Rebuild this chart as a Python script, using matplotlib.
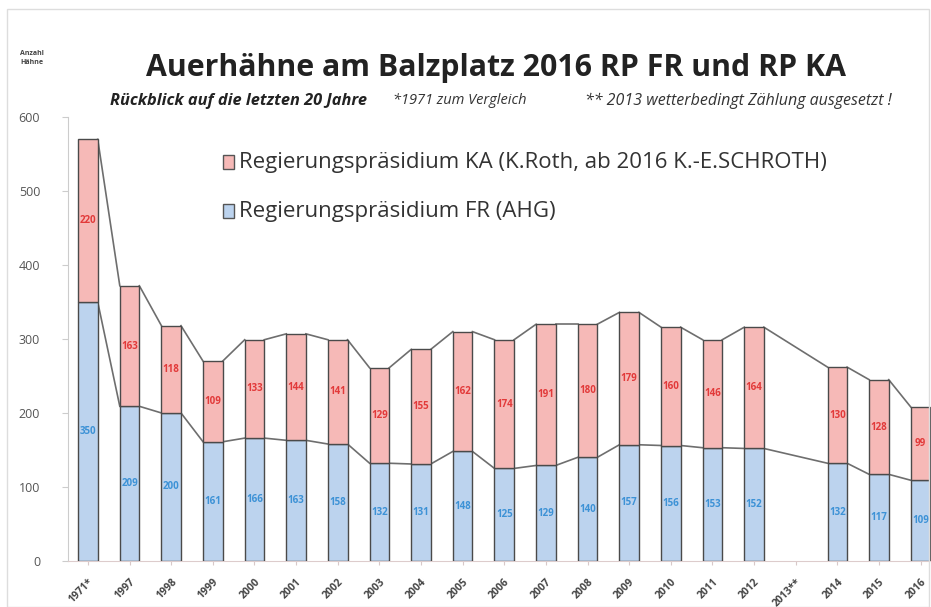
import numpy as np
import matplotlib
matplotlib.use("Agg")
import matplotlib.pyplot as plt
from matplotlib.patches import Rectangle

plt.rcParams['font.family'] = ['Open Sans', 'DejaVu Sans']

years = ["1971*", "1997", "1998", "1999", "2000", "2001", "2002", "2003", "2004",
         "2005", "2006", "2007", "2008", "2009", "2010", "2011", "2012", "2013**",
         "2014", "2015", "2016"]
fr = [350, 209, 200, 161, 166, 163, 158, 132, 131, 148, 125, 129, 140, 157, 156,
      153, 152, np.nan, 132, 117, 109]
ka = [220, 163, 118, 109, 133, 144, 141, 129, 155, 162, 174, 191, 180, 179, 160,
      146, 164, np.nan, 130, 128, 99]
yticks = [0, 100, 200, 300, 400, 500, 600]

title = "Auerhähne am Balzplatz 2016 RP FR und RP KA"
subtitle = "Rückblick auf die letzten 20 Jahre"
note1 = "*1971 zum Vergleich"
note2 = "** 2013 wetterbedingt Zählung ausgesetzt !"
leg_ka = "Regierungspräsidium KA (K.Roth, ab 2016 K.-E.SCHROTH)"
leg_fr = "Regierungspräsidium FR (AHG)"

fr = np.array(fr, dtype=float)
ka = np.array(ka, dtype=float)
x = np.arange(len(years))
w = 0.47

c_fr = "#bcd3ee"
c_ka = "#f6b9b7"
edge = "#4a4a4a"

fig = plt.figure(figsize=(9.31, 6.07), dpi=100)
ax = fig.add_axes([0.073, 0.076, 0.927, 0.731])

ax.bar(x, fr, width=w, color=c_fr, edgecolor=edge, linewidth=1.0, zorder=3)
ax.bar(x, ka, width=w, bottom=fr, color=c_ka, edgecolor=edge, linewidth=1.0, zorder=3)

# series lines connecting stack tops
valid = [i for i in range(len(x)) if not np.isnan(fr[i])]
tot = fr + ka
for a, b in zip(valid[:-1], valid[1:]):
    ax.plot([x[a] + w / 2, x[b] - w / 2], [fr[a], fr[b]], color="#6e6e6e", lw=1.2, zorder=2)
    ax.plot([x[a] + w / 2, x[b] - w / 2], [tot[a], tot[b]], color="#6e6e6e", lw=1.2, zorder=2)

for i in valid:
    ax.text(x[i], fr[i] / 2, f"{int(fr[i])}", ha="center", va="center",
            fontsize=7, color="#3d92d6", fontweight="bold", zorder=4)
    ax.text(x[i], fr[i] + ka[i] / 2, f"{int(ka[i])}", ha="center", va="center",
            fontsize=7, color="#e23a3a", fontweight="bold", zorder=4)

ax.set_xlim(-0.48, len(x) - 1 + 0.25)
ax.set_ylim(0, 600)
ax.set_yticks(yticks)
ax.set_yticklabels([str(v) for v in yticks], fontsize=9, color="#555555")
ax.set_xticks(x)
ax.set_xticklabels(years, rotation=45, ha="right", rotation_mode="anchor",
                   fontsize=7.5, color="#444444", fontweight="bold")
ax.tick_params(axis="y", length=4, color="#cccccc", pad=16)
ax.tick_params(axis="x", length=3, color="#d8c8c8", pad=8)
for s in ["top", "right"]:
    ax.spines[s].set_visible(False)
ax.spines["left"].set_color("#cccccc")
ax.spines["bottom"].set_color("#ddcccc")

fig.text(0.533, 0.888, title, ha="center", va="center", fontsize=21.8,
         fontweight="bold", color="#222222")
fig.text(0.118, 0.834, subtitle, ha="left", va="center", fontsize=11.8,
         fontweight="bold", fontstyle="italic", color="#222222")
fig.text(0.422, 0.834, note1, ha="left", va="center", fontsize=10.5,
         fontstyle="italic", color="#333333")
fig.text(0.628, 0.834, note2, ha="left", va="center", fontsize=11.5,
         fontstyle="italic", color="#333333")
fig.text(0.022, 0.905, "Anzahl\nHähne", ha="left", va="center", fontsize=5,
         fontweight="bold", color="#444444", linespacing=1.4)

# legend
for yy, col, txt in [(0.733, c_ka, leg_ka), (0.652, c_fr, leg_fr)]:
    fig.patches.append(Rectangle((0.239, yy - 0.011), 0.012, 0.023, transform=fig.transFigure,
                                 facecolor=col, edgecolor="#555555", linewidth=1.0))
    fig.text(0.257, yy, txt, ha="left", va="center", fontsize=16, color="#333333")

fig.patches.append(Rectangle((0.008, 0.0), 0.99, 0.985, transform=fig.transFigure,
                             facecolor="none", edgecolor="#dddddd", linewidth=1.0))

fig.savefig("out.png", dpi=100)
